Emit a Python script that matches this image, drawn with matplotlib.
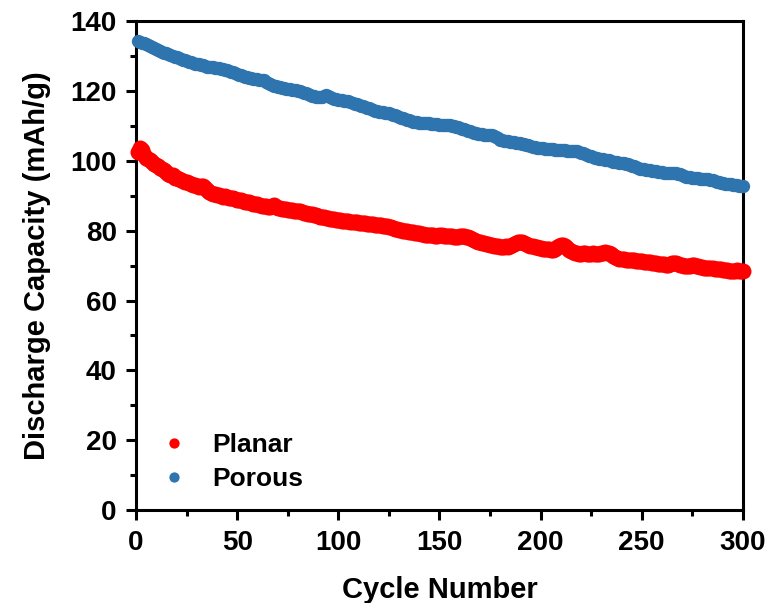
import matplotlib.pyplot as plt
import matplotlib.ticker as ticker
import numpy as np

plt.rcParams['font.family'] = ['Liberation Sans', 'DejaVu Sans']
plt.rcParams['font.weight'] = 'bold'

cycles = np.arange(1, 301)

planar = [
    102.5, 103.8, 103.2, 101.6, 100.8, 100.5, 100.1, 99.8, 99.0, 98.8,
    98.4, 97.9, 97.6, 97.3, 96.7, 96.2, 96.0, 95.8, 95.2, 95.0,
    94.8, 94.4, 94.3, 94.0, 93.9, 93.6, 93.4, 93.1, 93.0, 92.9,
    92.5, 92.7, 92.8, 92.3, 91.7, 91.2, 90.9, 90.6, 90.5, 90.3,
    90.2, 90.0, 89.7, 89.8, 89.6, 89.4, 89.5, 89.3, 89.0, 88.9,
    88.7, 88.8, 88.6, 88.3, 88.2, 88.1, 87.8, 87.7, 87.6, 87.6,
    87.4, 87.2, 87.0, 87.1, 86.9, 86.8, 87.0, 87.3, 86.9, 86.5,
    86.4, 86.3, 86.2, 86.1, 86.0, 85.9, 85.8, 85.7, 85.6, 85.6,
    85.5, 85.4, 85.2, 85.0, 84.9, 84.8, 84.7, 84.6, 84.5, 84.2,
    84.0, 83.9, 83.8, 83.6, 83.5, 83.4, 83.3, 83.3, 83.2, 83.1,
    83.0, 82.9, 82.9, 82.8, 82.7, 82.6, 82.5, 82.5, 82.4, 82.3,
    82.2, 82.2, 82.1, 82.0, 82.0, 81.9, 81.8, 81.7, 81.6, 81.5,
    81.5, 81.4, 81.3, 81.2, 81.1, 81.0, 80.8, 80.6, 80.4, 80.2,
    80.1, 80.0, 79.9, 79.8, 79.7, 79.6, 79.5, 79.4, 79.3, 79.2,
    79.1, 79.0, 78.9, 78.9, 78.8, 78.7, 78.7, 78.6, 78.6, 78.7,
    78.7, 78.6, 78.5, 78.5, 78.4, 78.4, 78.3, 78.3, 78.2, 78.4,
    78.5, 78.4, 78.3, 78.2, 77.9, 77.6, 77.3, 77.1, 76.9, 76.7,
    76.6, 76.4, 76.3, 76.1, 76.0, 75.9, 75.7, 75.6, 75.5, 75.4,
    75.4, 75.4, 75.5, 75.4, 75.6, 75.9, 76.2, 76.5, 76.7, 76.8,
    76.8, 76.5, 76.1, 75.8, 75.6, 75.5, 75.3, 75.2, 75.1, 75.0,
    74.9, 74.8, 74.7, 74.7, 74.6, 74.6, 74.8, 75.2, 75.6, 75.9,
    75.9, 75.5, 75.0, 74.6, 74.2, 73.9, 73.7, 73.5, 73.4, 73.4,
    73.5, 73.5, 73.4, 73.2, 73.3, 73.5, 73.4, 73.3, 73.4, 73.6,
    73.7, 73.8, 73.6, 73.5, 73.2, 72.8, 72.4, 72.1, 71.9, 71.8,
    71.8, 71.7, 71.6, 71.6, 71.5, 71.5, 71.4, 71.4, 71.3, 71.2,
    71.1, 71.0, 70.9, 70.9, 70.8, 70.7, 70.7, 70.6, 70.5, 70.5,
    70.4, 70.3, 70.3, 70.5, 70.7, 70.8, 70.7, 70.5, 70.3, 70.1,
    70.0, 69.9, 69.8, 69.9, 70.1, 70.2, 70.0, 69.8, 69.6, 69.5,
    69.4, 69.4, 69.4, 69.3, 69.2, 69.1, 69.0, 68.9, 68.9, 68.8,
    68.7, 68.7, 68.6, 68.5, 68.5, 68.6, 68.7, 68.6, 68.5, 68.4,
]

porous = [
    134.3, 134.0, 133.8, 133.6, 133.5, 133.3, 133.0, 132.6, 132.3, 132.0,
    131.7, 131.4, 131.2, 131.0, 130.8, 130.5, 130.3, 130.0, 129.8, 129.6,
    129.4, 129.2, 129.0, 128.8, 128.6, 128.4, 128.2, 128.0, 127.8, 127.7,
    127.6, 127.5, 127.4, 127.2, 127.0, 126.9, 126.8, 126.8, 126.7, 126.6,
    126.5, 126.4, 126.3, 126.1, 126.0, 125.8, 125.5, 125.3, 125.1, 124.9,
    124.7, 124.5, 124.3, 124.1, 123.9, 123.8, 123.6, 123.5, 123.4, 123.3,
    123.2, 123.1, 123.0, 122.7, 122.4, 122.1, 121.8, 121.5, 121.3, 121.1,
    121.0, 120.9, 120.8, 120.7, 120.6, 120.5, 120.4, 120.3, 120.2, 120.1,
    119.9, 119.7, 119.5, 119.3, 119.1, 118.9, 118.7, 118.5, 118.4, 118.3,
    118.3, 118.4, 118.6, 118.8, 118.7, 118.4, 118.1, 117.8, 117.6, 117.5,
    117.4, 117.3, 117.2, 117.1, 117.0, 116.8, 116.6, 116.4, 116.2, 116.0,
    115.8, 115.6, 115.4, 115.2, 115.0, 114.8, 114.6, 114.4, 114.3, 114.1,
    114.0, 113.9, 113.8, 113.7, 113.6, 113.4, 113.2, 113.0, 112.8, 112.6,
    112.4, 112.2, 112.0, 111.8, 111.6, 111.4, 111.2, 111.1, 111.0, 110.9,
    110.8, 110.8, 110.7, 110.7, 110.7, 110.6, 110.6, 110.5, 110.5, 110.4,
    110.4, 110.3, 110.3, 110.3, 110.2, 110.1, 110.0, 109.8, 109.6, 109.4,
    109.2, 109.0, 108.8, 108.6, 108.4, 108.2, 108.0, 107.9, 107.8, 107.7,
    107.6, 107.5, 107.5, 107.4, 107.4, 107.3, 107.0, 106.7, 106.4, 106.1,
    105.9, 105.8, 105.7, 105.6, 105.5, 105.4, 105.3, 105.2, 105.1, 105.0,
    104.9, 104.8, 104.6, 104.4, 104.2, 104.0, 103.9, 103.8, 103.7, 103.6,
    103.6, 103.5, 103.5, 103.4, 103.4, 103.3, 103.2, 103.1, 103.1, 103.0,
    103.0, 103.0, 102.9, 102.9, 102.9, 102.9, 102.8, 102.7, 102.5, 102.3,
    102.1, 101.9, 101.7, 101.5, 101.3, 101.1, 100.9, 100.8, 100.6, 100.5,
    100.4, 100.3, 100.2, 100.1, 100.0, 99.8, 99.7, 99.6, 99.5, 99.4,
    99.3, 99.2, 99.0, 98.8, 98.6, 98.4, 98.2, 98.0, 97.8, 97.7,
    97.6, 97.5, 97.4, 97.3, 97.2, 97.1, 97.0, 96.9, 96.8, 96.7,
    96.6, 96.5, 96.5, 96.4, 96.4, 96.4, 96.4, 96.3, 96.1, 95.9,
    95.7, 95.5, 95.4, 95.3, 95.2, 95.2, 95.1, 95.0, 94.9, 94.8,
    94.8, 94.7, 94.7, 94.6, 94.4, 94.2, 94.0, 93.8, 93.7, 93.6,
    93.5, 93.4, 93.3, 93.3, 93.2, 93.1, 93.0, 92.9, 92.8, 92.8,
]

fig = plt.figure(figsize=(7.69, 6.03), dpi=100)
ax = fig.add_axes([0.177, 0.154, 0.789, 0.811])

ax.plot(cycles, planar, 'o', color='#ff0000', markersize=11.5, markeredgewidth=0,
        label='Planar', clip_on=False, zorder=3)
ax.plot(cycles, porous, 'o', color='#2e75b0', markersize=9.6, markeredgewidth=0,
        label='Porous', clip_on=False, zorder=3)

ax.set_xlim(0, 300)
ax.set_ylim(0, 140)
ax.set_xticks([0, 50, 100, 150, 200, 250, 300])
ax.set_yticks([0, 20, 40, 60, 80, 100, 120, 140])
ax.xaxis.set_minor_locator(ticker.MultipleLocator(25))
ax.yaxis.set_minor_locator(ticker.MultipleLocator(10))

for s in ax.spines.values():
    s.set_linewidth(2.2)
ax.tick_params(which='major', direction='out', length=7, width=2.2, labelsize=20, pad=7)
ax.tick_params(which='minor', direction='out', length=4.5, width=2.2)
ax.tick_params(top=False, right=False, which='both')

ax.set_xlabel('Cycle Number', fontsize=21, fontweight='bold', labelpad=15)
ax.set_ylabel('Discharge Capacity (mAh/g)', fontsize=21, fontweight='bold', labelpad=14)

leg = ax.legend(loc='lower left', bbox_to_anchor=(0.0, -0.009), frameon=False,
                fontsize=19, handletextpad=0.95, labelspacing=0.38,
                handlelength=1.05)
for h in leg.legend_handles:
    h.set_markersize(7.4)

fig.savefig('out.png', dpi=100)
